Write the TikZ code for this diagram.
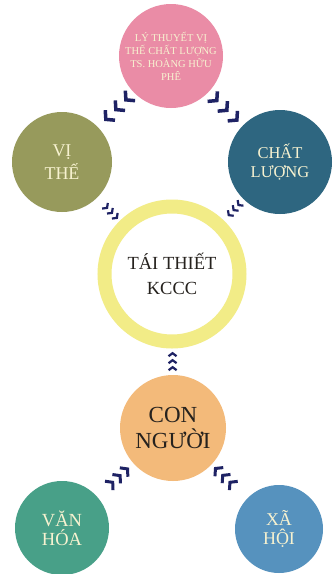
\documentclass[tikz,border=0pt]{standalone}
\usepackage{fontspec}
\setmainfont{Liberation Serif}
\usetikzlibrary{arrows.meta, decorations.markings}
\definecolor{lypink}{RGB}{234,140,166}
\definecolor{olive}{RGB}{151,154,92}
\definecolor{deepteal}{RGB}{46,102,128}
\definecolor{ringyellow}{RGB}{242,236,135}
\definecolor{peach}{RGB}{243,186,122}
\definecolor{seagreen}{RGB}{72,160,136}
\definecolor{skyblue}{RGB}{86,146,190}
\definecolor{navy}{RGB}{30,34,100}
\definecolor{cream}{RGB}{247,242,208}
\definecolor{ink}{RGB}{38,34,30}
\tikzset{
  bigbarb/.tip={Straight Barb[length=6pt,width=14pt]},
  midbarb/.tip={Straight Barb[length=5pt,width=12pt]},
  smallbarb/.tip={Straight Barb[length=3pt,width=8pt]},
}

\begin{document}
\begin{tikzpicture}[
  x=1pt, y=-1pt,
  every node/.style={align=center},
  bubble/.style={circle, inner sep=0pt, text=cream},
  % chevrons only, no shaft: tip kind, first, last, step
  chevs/.style n args={4}{color=navy, postaction={decorate}, decoration={markings,
    mark=between positions #2 and #3 step #4 with {\arrow{#1}}}},
  bigchev/.style 2 args={line width=3.5pt, chevs={bigbarb}{#1}{#2}{14pt}},
  midchev/.style 2 args={line width=3pt, chevs={midbarb}{#1}{#2}{10pt}},
  chev/.style 2 args={line width=2.2pt, chevs={smallbarb}{#1}{#2}{7pt}},
]
\useasboundingbox[fill=white] (0,0) rectangle (334,574);

% Top - theory
\node[bubble, fill=lypink, minimum size=104pt, font=\fontsize{10.5}{13}\selectfont] (ly) at (171,56)
  {LÝ THUYẾT VỊ\\THẾ CHẤT LƯỢNG\\TS. HOÀNG HỮU\\PHÊ};

% Middle row
\node[bubble, fill=olive, minimum size=100pt, font=\fontsize{18}{23}\selectfont] (vithe) at (62,162) {VỊ\\THẾ};
\node[bubble, fill=deepteal, minimum size=104pt, font=\fontsize{16.5}{19}\selectfont] (chat) at (280,162) {CHẤT\\LƯỢNG};

% Centre ring
\node[circle, draw=ringyellow, line width=14pt, fill=white, minimum size=135pt, inner sep=0pt,
      text=ink, font=\fontsize{18.5}{25}\selectfont] (taithiet) at (172,274) {TÁI THIẾT\\KCCC};

% People
\node[bubble, fill=peach, minimum size=106pt, text=ink, font=\fontsize{23}{26}\selectfont] (con) at (173,428) {CON\\NGƯỜI};

% Bottom row
\node[bubble, fill=seagreen, minimum size=94pt, font=\fontsize{18.5}{19}\selectfont] (van) at (62,528) {VĂN\\HÓA};
\node[bubble, fill=skyblue, minimum size=88pt, font=\fontsize{18}{19}\selectfont] (xa) at (279,529) {XÃ\\HỘI};

% Chevron arrows
\path[bigchev={13pt}{41.5pt}] (ly) -- (vithe);
\path[bigchev={14pt}{42.5pt}] (ly) -- (chat);
\path[chev={15.5pt}{30pt}] (vithe) -- (taithiet);
\path[chev={9pt}{23.5pt}] (chat) -- (taithiet);
\path[chev={9pt}{23.5pt}] (con) -- (taithiet);
\path[midchev={23pt}{43.5pt}] (van) -- (con);
\path[midchev={25.5pt}{46pt}] (xa) -- (con);

\end{tikzpicture}
\end{document}
